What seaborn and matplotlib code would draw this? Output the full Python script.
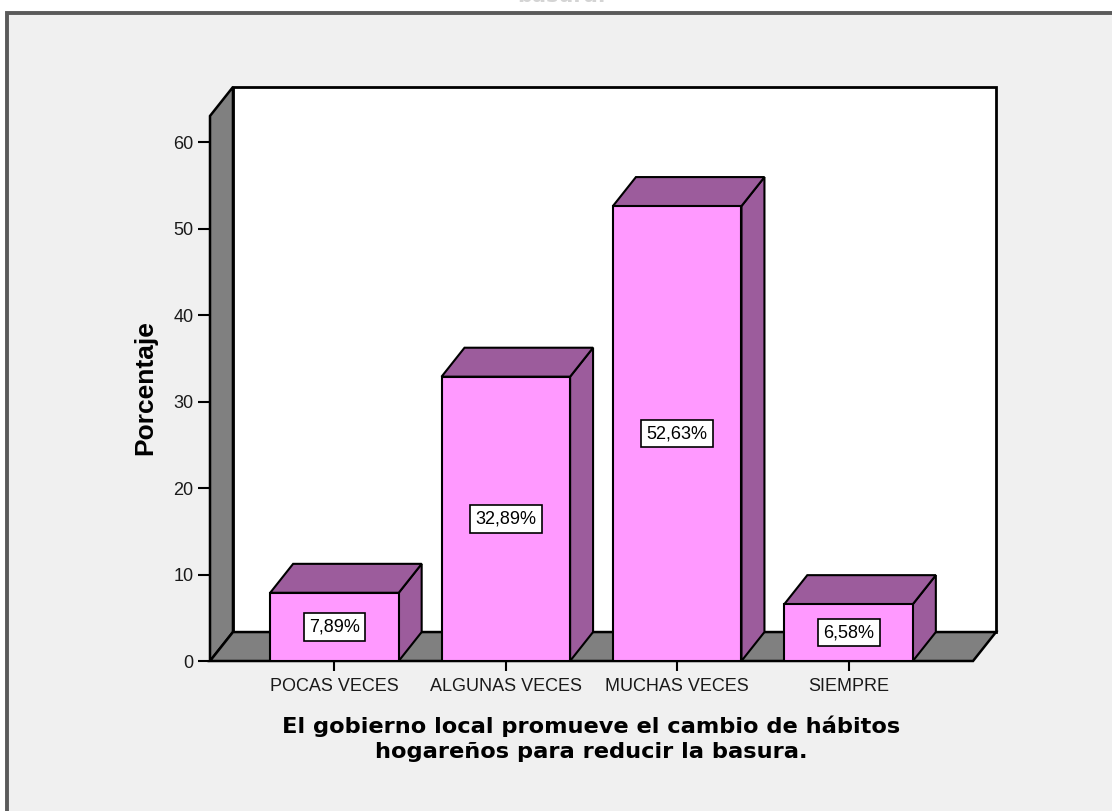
import matplotlib
matplotlib.use('Agg')
import matplotlib.pyplot as plt
import seaborn as sns
from matplotlib.patches import Polygon, Rectangle

categorias = ['POCAS VECES', 'ALGUNAS VECES', 'MUCHAS VECES', 'SIEMPRE']
porcentajes = [7.89, 32.89, 52.63, 6.58]
y_ticks = [0, 10, 20, 30, 40, 50, 60]

# 3D look (depth offset in data units)
XMIN, XMAX = -0.726, 3.726
YTOP = 63.05
DX, DY = 0.134, 3.35

FRONT = '#ff99ff'
SIDE = '#9c5c9c'
WALL = '#808080'

sns.set_style('white')
plt.rcParams['font.family'] = ['Liberation Sans', 'DejaVu Sans']

fig = plt.figure(figsize=(11.12, 8.11), dpi=100)
fig.patch.set_facecolor('white')

# outer grey frame (right and bottom fall outside the picture)
frame = Rectangle((7 / 1112, -0.1), 1.2, (811 - 13) / 811 + 0.1,
                  transform=fig.transFigure, fc='#f0f0f0', ec='#5a5a5a', lw=2.8, zorder=0)
fig.add_artist(frame)
# cut-off title, only its bottom shows
fig.text(562 / 1112, 1 - 2 / 811, 'basura.', ha='center', va='baseline',
         fontsize=15, fontweight='bold', color='#d4d4d4', family='DejaVu Sans')

ax = fig.add_axes([210 / 1112, 150 / 811, 786 / 1112, 574 / 811])
ax.patch.set_visible(False)

sns.barplot(x=categorias, y=porcentajes, color=FRONT, saturation=1, width=0.75,
            edgecolor='black', linewidth=1.5, ax=ax, zorder=4)
bars = list(ax.patches)

# back wall, left wall, floor
ax.add_patch(Polygon([(XMIN + DX, DY), (XMAX + DX, DY), (XMAX + DX, YTOP + DY), (XMIN + DX, YTOP + DY)],
                     closed=True, fc='white', ec='black', lw=2, zorder=1, clip_on=False))
ax.add_patch(Polygon([(XMIN, 0), (XMIN, YTOP), (XMIN + DX, YTOP + DY), (XMIN + DX, DY)],
                     closed=True, fc=WALL, ec='black', lw=1.8, zorder=1.5, clip_on=False))
ax.add_patch(Polygon([(XMIN, 0), (XMAX, 0), (XMAX + DX, DY), (XMIN + DX, DY)],
                     closed=True, fc=WALL, ec='black', lw=1.8, zorder=1.5, clip_on=False))

for b, v in zip(bars, porcentajes):
    x0, w, h = b.get_x(), b.get_width(), b.get_height()
    side = [(x0 + w, 0), (x0 + w + DX, DY), (x0 + w + DX, h + DY), (x0 + w, h)]
    top = [(x0, h), (x0 + DX, h + DY), (x0 + w + DX, h + DY), (x0 + w, h)]
    ax.add_patch(Polygon(side, closed=True, fc=SIDE, ec='black', lw=1.5, zorder=3, clip_on=False))
    ax.add_patch(Polygon(top, closed=True, fc=SIDE, ec='black', lw=1.5, zorder=3, clip_on=False))
    ax.text(x0 + w / 2, h / 2, f'{v:.2f}%'.replace('.', ','), ha='center', va='center',
            fontsize=13, color='black', zorder=6,
            bbox=dict(boxstyle='square,pad=0.3', fc='white', ec='black', lw=1.2))

ax.set_xlim(XMIN, XMAX + DX)
ax.set_ylim(0, YTOP + DY)
ax.set_yticks(y_ticks)
for s in ax.spines.values():
    s.set_visible(False)
ax.tick_params(axis='y', left=True, length=9, width=1.5, pad=3, labelsize=13,
               colors='black', labelcolor='#1a1a1a')
ax.tick_params(axis='x', bottom=True, length=7.5, width=1.5, pad=5, labelsize=13,
               colors='black', labelcolor='#1a1a1a')

ax.set_ylabel('Porcentaje', fontsize=19, fontweight='bold', color='black')
ax.yaxis.set_label_coords(-0.067, 0.477)
ax.set_xlabel('El gobierno local promueve el cambio de hábitos\nhogareños para reducir la basura.',
              fontsize=16.2, fontweight='bold', family='DejaVu Sans', color='black', linespacing=1.35)
ax.xaxis.set_label_coords(0.4854, -0.0945)

fig.savefig('out.png', dpi=100)
